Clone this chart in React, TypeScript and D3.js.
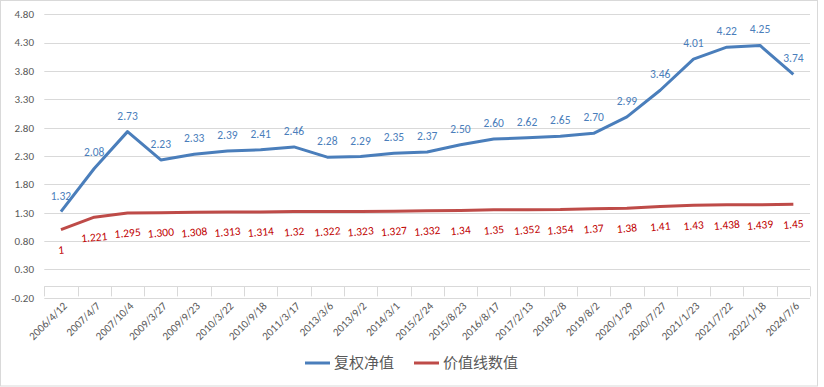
import React from "react";
import * as d3 from "d3";

const dates = ["2006/4/12","2007/4/7","2007/10/4","2009/3/27","2009/9/23","2010/3/22","2010/9/18","2011/3/17","2013/3/6","2013/9/2","2014/3/1","2015/2/24","2015/8/23","2016/8/17","2017/2/13","2018/2/8","2019/8/2","2020/1/29","2020/7/27","2021/1/23","2021/7/22","2022/1/18","2024/7/6"];
const navValues = [1.32,2.08,2.73,2.23,2.33,2.39,2.41,2.46,2.28,2.29,2.35,2.37,2.50,2.60,2.62,2.65,2.70,2.99,3.46,4.01,4.22,4.25,3.74];
const valueLine = [1,1.221,1.295,1.300,1.308,1.313,1.314,1.32,1.322,1.323,1.327,1.332,1.34,1.35,1.352,1.354,1.37,1.38,1.41,1.43,1.438,1.439,1.45];
const valueLabels = ["1","1.221","1.295","1.300","1.308","1.313","1.314","1.32","1.322","1.323","1.327","1.332","1.34","1.35","1.352","1.354","1.37","1.38","1.41","1.43","1.438","1.439","1.45"];
const yTicks = [-0.2,0.3,0.8,1.3,1.8,2.3,2.8,3.3,3.8,4.3,4.8];
const seriesNames = ["复权净值","价值线数值"];

const BLUE = "#4A7EBB";
const RED = "#BE4B48";
const FONT = "Calibri, Carlito, 'Liberation Sans', 'Noto Sans CJK SC', sans-serif";

export default function App() {
  const W = 824, H = 387;
  const x0 = 44.3, x1 = 810;
  const x = d3.scaleBand<string>().domain(dates).range([x0, x1]);
  const y = d3.scaleLinear().domain([-0.2, 4.8]).range([297.7, 14.3]);
  const cx = (d: string) => (x(d) as number) + x.bandwidth() / 2;
  const line = d3.line<number>().x((_, i) => cx(dates[i])).y(v => y(v));
  const zeroY = y(0);
  return (
    <svg width={W} height={H} style={{ position: "absolute", left: 0, top: 0, background: "#fff" }} fontFamily={FONT}>
      <rect x={0.5} y={0.5} width={817} height={385.5} fill="#fff" stroke="#D9D9D9" />
      {yTicks.map(t => (
        <g key={t}>
          <line x1={x0} x2={x1} y1={Math.round(y(t)) + 0.5} y2={Math.round(y(t)) + 0.5} stroke="#D9D9D9" />
          <text x={34} y={y(t)} dy="0.35em" textAnchor="end" fontSize={11} fill="#595959">{t.toFixed(2)}</text>
        </g>
      ))}
      <line x1={x0} x2={x1} y1={Math.round(zeroY) + 0.5} y2={Math.round(zeroY) + 0.5} stroke="#D9D9D9" />
      {dates.concat([""]).map((d, i) => {
        const tx = Math.round(x0 + i * x.bandwidth()) + 0.5;
        return <line key={"t" + i} x1={tx} x2={tx} y1={zeroY} y2={zeroY + 10} stroke="#D9D9D9" />;
      })}
      {dates.map(d => (
        <text key={d} transform={`translate(${cx(d) + 4},${zeroY + 17.5}) rotate(-45)`} textAnchor="end" dy="0.35em" fontSize={11.2} fill="#595959">{d}</text>
      ))}
      <path d={line(valueLine) as string} fill="none" stroke={RED} strokeWidth={3} strokeLinejoin="round" />
      <path d={line(navValues) as string} fill="none" stroke={BLUE} strokeWidth={3} strokeLinejoin="round" />
      {navValues.map((v, i) => (
        <text key={"n" + i} x={cx(dates[i])} y={y(v) - 12} textAnchor="middle" fontSize={11.5} fill={BLUE}>{v.toFixed(2)}</text>
      ))}
      {valueLine.map((v, i) => (
        <text key={"v" + i} transform={`translate(${cx(dates[i])},${y(v) + 20}) rotate(-5)`} dy="0.35em" textAnchor="middle" fontSize={11.5} fill="#C00000">{valueLabels[i]}</text>
      ))}
      <g transform="translate(305,363)">
        <line x1={0} x2={25} y1={0} y2={0} stroke={BLUE} strokeWidth={3} />
        <text x={29} y={0} dy="0.35em" fontSize={15} fill="#595959">{seriesNames[0]}</text>
      </g>
      <g transform="translate(414,363)">
        <line x1={0} x2={25} y1={0} y2={0} stroke={RED} strokeWidth={3} />
        <text x={29} y={0} dy="0.35em" fontSize={15} fill="#595959">{seriesNames[1]}</text>
      </g>
    </svg>
  );
}
